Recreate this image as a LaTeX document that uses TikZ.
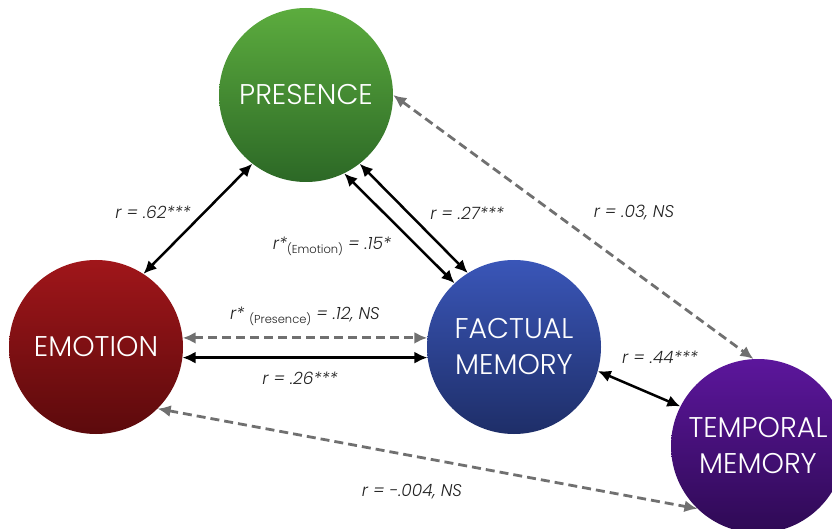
\documentclass[tikz,border=0pt]{standalone}
\usepackage{fontspec}
\setmainfont{Poppins}
\newfontfamily\gothic{Poppins Light}[ItalicFont={Poppins Light Italic}]
\usetikzlibrary{arrows.meta}

\definecolor{presTop}{RGB}{92,172,62}
\definecolor{presBot}{RGB}{44,104,38}
\definecolor{emoTop}{RGB}{160,22,26}
\definecolor{emoBot}{RGB}{92,10,12}
\definecolor{factTop}{RGB}{58,86,184}
\definecolor{factBot}{RGB}{30,46,104}
\definecolor{tempTop}{RGB}{92,22,156}
\definecolor{tempBot}{RGB}{46,10,84}
\definecolor{nsgray}{RGB}{112,112,112}
\definecolor{labtext}{RGB}{34,34,34}

\tikzset{
  var/.style={circle, minimum size=174pt, inner sep=0pt, align=center,
    text=white, font=\gothic\fontsize{28.5}{36}\selectfont},
  corr/.style={black, line width=2.5pt,
    {Latex[length=13pt,width=12pt]}-{Latex[length=13pt,width=12pt]}},
  ns/.style={nsgray, line width=2.8pt, dash pattern=on 9pt off 5pt,
    {Latex[length=13pt,width=12pt]}-{Latex[length=13pt,width=12pt]}},
  lab/.style={text=labtext, font=\gothic\itshape\fontsize{17}{19}\selectfont}
}
\newcommand{\subtag}[1]{\raisebox{-0.45ex}{\upshape\fontsize{11.5}{11.5}\selectfont(#1)}}

\begin{document}
\begin{tikzpicture}[x=1pt, y=1pt]
  \useasboundingbox (0,0) rectangle (832,-529);

  % variables
  \node[var, top color=presTop, bottom color=presBot] (presence) at (306,-95) {PRESENCE};
  \node[var, top color=emoTop, bottom color=emoBot] (emotion) at (96,-347) {EMOTION};
  \node[var, top color=factTop, bottom color=factBot] (factual) at (514,-347) {FACTUAL\\MEMORY};
  \node[var, top color=tempTop, bottom color=tempBot] (temporal) at (758,-446) {TEMPORAL\\MEMORY};

  % correlations
  \draw[corr] (emotion.57) -- (presence.232);
  \draw[corr] (presence.308) -- (factual.122);
  \draw[corr] (presence.296) -- (factual.133);
  \draw[ns] (presence.0) -- (temporal.93);
  \draw[ns] (emotion.6) -- (factual.174);
  \draw[corr] (emotion.-7) -- (factual.187);
  \draw[corr] (factual.-16) -- (temporal.153);
  \draw[ns] (emotion.-45) -- (temporal.226);

  % labels
  \node[lab] (rEP) at (153,-212) {r = .62***};
  \node[lab] (rPFe) at (332,-246) {r*\subtag{Emotion} = .15*};
  \node[lab] (rPF) at (467,-213) {r = .27***};
  \node[lab] (rPT) at (634,-213) {r = .03, NS};
  \node[lab] (rEFp) at (305,-316) {r* \subtag{Presence} = .12, NS};
  \node[lab] (rEF) at (300,-378) {r = .26***};
  \node[lab] (rFT) at (660,-357) {r = .44***};
  \node[lab] (rET) at (412,-492) {r = -.004, NS};
\end{tikzpicture}
\end{document}
